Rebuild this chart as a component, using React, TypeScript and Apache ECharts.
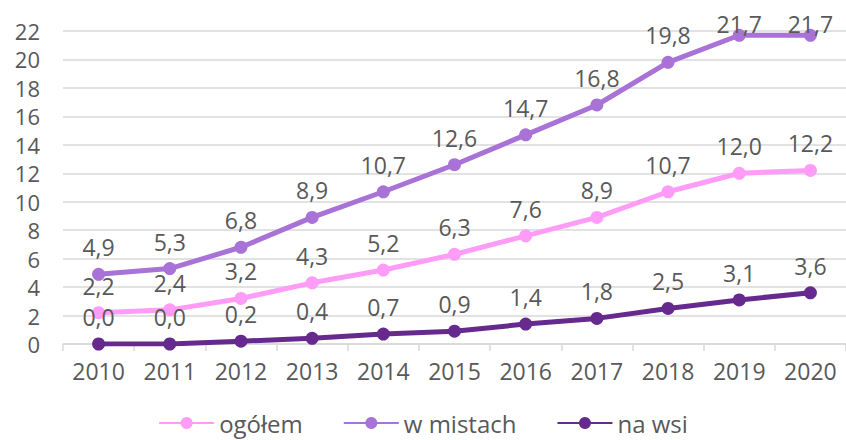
import React, { useEffect, useRef } from "react";
import * as echarts from "echarts";

const years = ["2010", "2011", "2012", "2013", "2014", "2015", "2016", "2017", "2018", "2019", "2020"];
const ogolem = [2.2, 2.4, 3.2, 4.3, 5.2, 6.3, 7.6, 8.9, 10.7, 12.0, 12.2];
const wMistach = [4.9, 5.3, 6.8, 8.9, 10.7, 12.6, 14.7, 16.8, 19.8, 21.7, 21.7];
const naWsi = [0.0, 0.0, 0.2, 0.4, 0.7, 0.9, 1.4, 1.8, 2.5, 3.1, 3.6];

const FONT = "Open Sans";
const TXT = "#595959";

function mkSeries(name: string, data: number[], color: string) {
  return {
    name,
    type: "line",
    data: data.map((v) =>
      v > 21 ? { value: v, label: { distance: -7 } } : v
    ),
    symbol: "circle",
    symbolSize: 13,
    lineStyle: { width: 5, color },
    itemStyle: { color },
    label: {
      show: true,
      position: "top",
      distance: 9,
      color: TXT,
      fontFamily: FONT,
      fontSize: 23,
      lineHeight: 23,
      formatter: (p: any) => Number(p.value).toFixed(1).replace(".", ","),
    },
  };
}

export default function App() {
  const ref = useRef<HTMLDivElement>(null);
  useEffect(() => {
    const chart = echarts.init(ref.current!, null, { renderer: "svg" });
    chart.setOption({
      animation: false,
      textStyle: { fontFamily: FONT },
      grid: { left: 63, right: -4, top: 31, bottom: 96 },
      legend: {
        bottom: 0,
        left: "center",
        itemWidth: 55,
        itemHeight: 15,
        itemGap: 40,
        textStyle: { color: TXT, fontFamily: FONT, fontSize: 24, lineHeight: 24 },
        data: ["ogółem", "w mistach", "na wsi"],
      },
      xAxis: {
        type: "category",
        data: years,
        boundaryGap: true,
        axisLine: { lineStyle: { color: "#d9d9d9", width: 1.5 } },
        axisTick: { show: true, length: 7, lineStyle: { color: "#d9d9d9", width: 1.5 } },
        axisLabel: { color: TXT, fontFamily: FONT, fontSize: 23, margin: 15 },
      },
      yAxis: {
        type: "value",
        min: 0,
        max: 22,
        interval: 2,
        axisLine: { show: false },
        axisTick: { show: false },
        splitLine: { lineStyle: { color: "#d9d9d9", width: 1.5 } },
        axisLabel: { color: TXT, fontFamily: FONT, fontSize: 22, lineHeight: 22, margin: 23 },
      },
      series: [
        mkSeries("ogółem", ogolem, "#ff9cf7"),
        mkSeries("w mistach", wMistach, "#a972d6"),
        mkSeries("na wsi", naWsi, "#662a8e"),
      ],
    });
    return () => chart.dispose();
  }, []);
  return <div ref={ref} style={{ width: 846, height: 440, position: "absolute", left: 0, top: 0 }} />;
}
